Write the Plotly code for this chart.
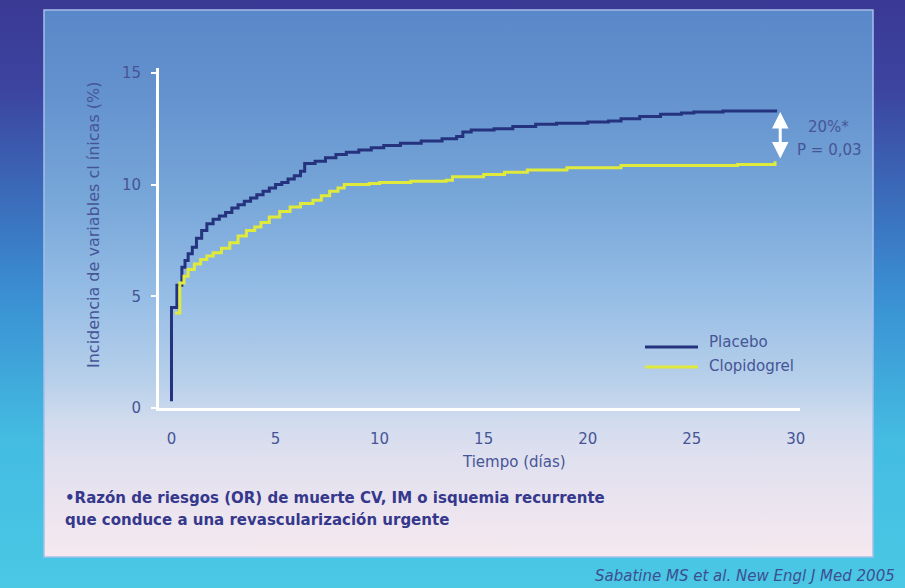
import base64
import plotly.graph_objects as go

# Kaplan-Meier style cumulative incidence (%) by day
placebo_days = [0.0, 0.0, 0.26, 0.5, 0.65, 0.8, 1.0, 1.2, 1.45, 1.7, 2.0, 2.3, 2.6, 2.9, 3.2, 3.5,
                3.8, 4.1, 4.4, 4.7, 5.0, 5.3, 5.6, 5.9, 6.2, 6.4, 6.9, 7.4, 7.9, 8.4, 9.0, 9.6,
                10.2, 11.0, 12.0, 13.0, 13.7, 14.0, 14.4, 15.5, 16.4, 17.5, 18.5, 20.0, 21.0,
                21.6, 22.5, 23.5, 24.5, 25.1, 26.5, 29.1]
placebo_pct = [0.3, 4.5, 5.5, 6.3, 6.6, 6.9, 7.2, 7.6, 7.95, 8.25, 8.45, 8.6, 8.75, 8.95, 9.1, 9.25,
               9.4, 9.55, 9.7, 9.85, 10.0, 10.1, 10.25, 10.4, 10.6, 10.95, 11.05, 11.2, 11.35, 11.45,
               11.55, 11.65, 11.75, 11.85, 11.95, 12.05, 12.15, 12.35, 12.45, 12.5, 12.6, 12.7,
               12.75, 12.8, 12.85, 12.95, 13.05, 13.15, 13.2, 13.25, 13.3, 13.3]

clopidogrel_days = [0.17, 0.4, 0.6, 0.8, 1.1, 1.4, 1.7, 2.0, 2.4, 2.8, 3.2, 3.6, 4.0, 4.3, 4.7, 5.2,
                    5.7, 6.2, 6.8, 7.2, 7.6, 8.0, 8.3, 9.5, 10.0, 11.5, 13.2, 13.5, 15.0, 16.0,
                    17.1, 19.0, 21.6, 27.2, 29.0]
clopidogrel_pct = [4.25, 5.6, 5.9, 6.2, 6.45, 6.65, 6.8, 6.95, 7.15, 7.4, 7.7, 7.95, 8.1, 8.3, 8.55,
                   8.8, 9.0, 9.15, 9.3, 9.5, 9.7, 9.85, 10.0, 10.05, 10.1, 10.15, 10.2, 10.35, 10.45,
                   10.55, 10.65, 10.75, 10.85, 10.9, 11.05]

x_ticks = [0, 5, 10, 15, 20, 25, 30]
y_ticks = [0, 5, 10, 15]

NAVY = "#25337f"
YELLOW = "#dfea3c"
TEXT = "#465596"
DARK_TEXT = "#35388c"
FONT = "DejaVu Sans"

W, H = 905, 588
L, R, T, B = 159, 105, 68, 180
PW, PH = W - L - R, H - T - B


def px(x):
    return (x - L) / PW


def py(y):
    return (H - B - y) / PH


# Slide-style backdrop: outer gradient frame with a lighter inner panel
svg = f"""<svg xmlns="http://www.w3.org/2000/svg" width="{W}" height="{H}">
<defs>
<linearGradient id="o" x1="0" y1="0" x2="0" y2="1">
<stop offset="0" stop-color="#3a3994"/><stop offset="0.15" stop-color="#3c44a0"/>
<stop offset="0.5" stop-color="#3a8fd2"/><stop offset="0.75" stop-color="#44bce2"/>
<stop offset="1" stop-color="#4ac8e4"/></linearGradient>
<linearGradient id="i" x1="0" y1="0" x2="0" y2="1">
<stop offset="0" stop-color="#5a87c8"/><stop offset="0.165" stop-color="#6593cf"/>
<stop offset="0.35" stop-color="#78a7d9"/><stop offset="0.53" stop-color="#97bee6"/>
<stop offset="0.68" stop-color="#b8d0ea"/><stop offset="0.75" stop-color="#d0dbee"/>
<stop offset="0.82" stop-color="#e0e0ef"/><stop offset="1" stop-color="#f6e9ef"/></linearGradient>
</defs>
<rect width="{W}" height="{H}" fill="url(#o)"/>
<rect x="44" y="10" width="829" height="547" fill="url(#i)" stroke="#a5c0ea" stroke-width="1.5"/>
</svg>"""
bg_uri = "data:image/svg+xml;base64," + base64.b64encode(svg.encode()).decode()

fig = go.Figure()
fig.add_trace(go.Scatter(x=placebo_days, y=placebo_pct, mode="lines", name="Placebo",
                         line=dict(color=NAVY, width=3, shape="hv")))
fig.add_trace(go.Scatter(x=clopidogrel_days, y=clopidogrel_pct, mode="lines", name="Clopidogrel",
                         line=dict(color=YELLOW, width=3, shape="hv")))

fig.add_layout_image(dict(source=bg_uri, xref="paper", yref="paper", x=px(0), y=py(0),
                          sizex=W / PW, sizey=H / PH, xanchor="left", yanchor="top",
                          sizing="stretch", layer="below"))

annotations = [
    dict(x=px(93), y=py(225), text="Incidencia de variables cl ínicas (%)", textangle=-90,
         font=dict(size=16, color=TEXT)),
    dict(x=px(514), y=py(462), text="Tiempo (días)", font=dict(size=15, color=TEXT)),
    dict(x=px(63), y=py(498), xanchor="left",
         text="•Razón de riesgos (OR) de muerte CV, IM o isquemia recurrente",
         font=dict(size=15, color=DARK_TEXT, weight="bold")),
    dict(x=px(63), y=py(520), xanchor="left",
         text="que conduce a una revascularización urgente",
         font=dict(size=15, color=DARK_TEXT, weight="bold")),
    dict(x=px(897), y=py(576), xanchor="right", text="Sabatine MS et al. New Engl J Med 2005",
         font=dict(size=15, color="#3d4f92", style="italic")),
    dict(x=px(707), y=py(342), xanchor="left", text="Placebo", font=dict(size=15, color=TEXT)),
    dict(x=px(707), y=py(366), xanchor="left", text="Clopidogrel", font=dict(size=15, color=TEXT)),
    dict(x=px(828), y=py(127), text="20%*", font=dict(size=15, color=TEXT)),
    dict(x=px(829), y=py(150), text="P = 0,03", font=dict(size=15, color=TEXT)),
    # double-headed arrow spanning the gap between the two curves at day 29
    dict(x=29.25, y=placebo_pct[-1] - 0.05, ax=29.25, ay=clopidogrel_pct[-1] + 0.05,
         xref="x", yref="y", axref="x", ayref="y", text="", showarrow=True,
         arrowside="end+start", arrowhead=2, arrowsize=1.1, arrowwidth=3, arrowcolor="white"),
]
for a in annotations:
    a.setdefault("xref", "paper")
    a.setdefault("yref", "paper")
    a.setdefault("xanchor", "center")
    a.setdefault("yanchor", "middle")
    a.setdefault("showarrow", False)
    fig.add_annotation(**a)

# hand-drawn legend keys
for yy, col in [(347, NAVY), (367, YELLOW)]:
    fig.add_shape(type="line", xref="paper", yref="paper", x0=px(645), x1=px(698),
                  y0=py(yy), y1=py(yy), line=dict(color=col, width=3))

fig.update_layout(
    width=W, height=H,
    margin=dict(l=L, r=R, t=T, b=B, autoexpand=False),
    paper_bgcolor="rgba(0,0,0,0)", plot_bgcolor="rgba(0,0,0,0)",
    font=dict(family=FONT, color=TEXT),
    showlegend=False,
    xaxis=dict(range=[-0.6, 30.2], tickvals=x_ticks, showline=True, linecolor="white",
               linewidth=3, ticks="", showgrid=False, zeroline=False,
               tickfont=dict(size=15, color=TEXT), ticklabelstandoff=15, fixedrange=True),
    yaxis=dict(range=[0, 15.22], tickvals=y_ticks, showline=True, linecolor="white",
               linewidth=3, ticks="outside", ticklen=5, tickwidth=2, tickcolor="white",
               showgrid=False, zeroline=False, tickfont=dict(size=15, color=TEXT),
               ticklabelstandoff=7, fixedrange=True),
)

fig.write_html("out.html")
